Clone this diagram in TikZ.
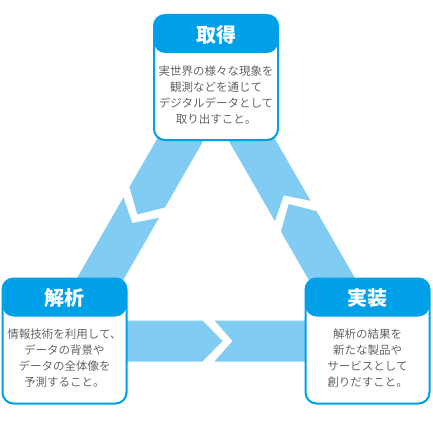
\documentclass[tikz,border=0pt]{standalone}
\usepackage{fontspec}
\newfontfamily\jpfont{Noto Sans CJK JP}
\newfontfamily\jplight{Noto Sans CJK JP}[UprightFont=* DemiLight]
\usetikzlibrary{calc,backgrounds}
\definecolor{headblue}{RGB}{0,160,233}
\definecolor{bandblue}{RGB}{128,204,242}
\definecolor{textgray}{RGB}{85,85,85}

% one side of the cycle, broken by a chevron in the middle
\newcommand{\cyclearrow}[2]{%
  \fill[bandblue] ($(#1.center)!20.5pt!90:(#2.center)$)
    -- ($(#1.center)!138pt!(#2.center)!20.5pt!90:(#2.center)$)
    -- ($(#1.center)!158pt!(#2.center)$)
    -- ($(#1.center)!138pt!(#2.center)!20.5pt!-90:(#2.center)$)
    -- ($(#1.center)!20.5pt!-90:(#2.center)$) -- cycle;
  \fill[bandblue] ($(#1.center)!150pt!(#2.center)!20.5pt!90:(#2.center)$)
    -- ($(#1.center)!168pt!(#2.center)$)
    -- ($(#1.center)!150pt!(#2.center)!20.5pt!-90:(#2.center)$)
    -- ($(#2.center)!20.5pt!90:(#1.center)$)
    -- ($(#2.center)!20.5pt!-90:(#1.center)$) -- cycle;
}

\begin{document}
\begin{tikzpicture}[x=1pt,y=-1pt,
    box/.style={draw=headblue,line width=2pt,fill=white,rounded corners=11pt,
                minimum width=124pt,minimum height=125pt,inner sep=0pt,
                path picture={\fill[headblue] (path picture bounding box.north west)
                  rectangle ([yshift=-38pt]path picture bounding box.north east);}},
    head/.style={text=white,inner sep=0pt,font=\jpfont\bfseries\fontsize{20}{24}\selectfont},
    body/.style={text=textgray,inner sep=0pt,align=center,
                 font=\jplight\fontsize{11.5}{16}\selectfont}]

    \useasboundingbox (0,0) rectangle (433,428);

    \node[box] (get) at (216,77.5) {};
    \node[box] (ana) at (64.5,341) {};
    \node[box] (impl) at (367.5,341) {};

    \node[head] (get-h) at ([yshift=-20.5pt]get.north) {取得};
    \node[head] (ana-h) at ([yshift=-20.5pt]ana.north) {解析};
    \node[head] (impl-h) at ([yshift=-20.5pt]impl.north) {実装};

    \node[body] (get-b) at ([yshift=-81pt]get.north)
      {実世界の様々な現象を\\観測などを通じて\\デジタルデータとして\\取り出すこと。};
    \node[body] (ana-b) at ([yshift=-81pt]ana.north)
      {情報技術を利用して、\\データの背景や\\データの全体像を\\予測すること。};
    \node[body] (impl-b) at ([yshift=-81pt]impl.north)
      {解析の結果を\\新たな製品や\\サービスとして\\創りだすこと。};

    \begin{scope}[on background layer]
      \cyclearrow{get}{ana}
      \cyclearrow{ana}{impl}
      \cyclearrow{impl}{get}
    \end{scope}
  \end{tikzpicture}
\end{document}
